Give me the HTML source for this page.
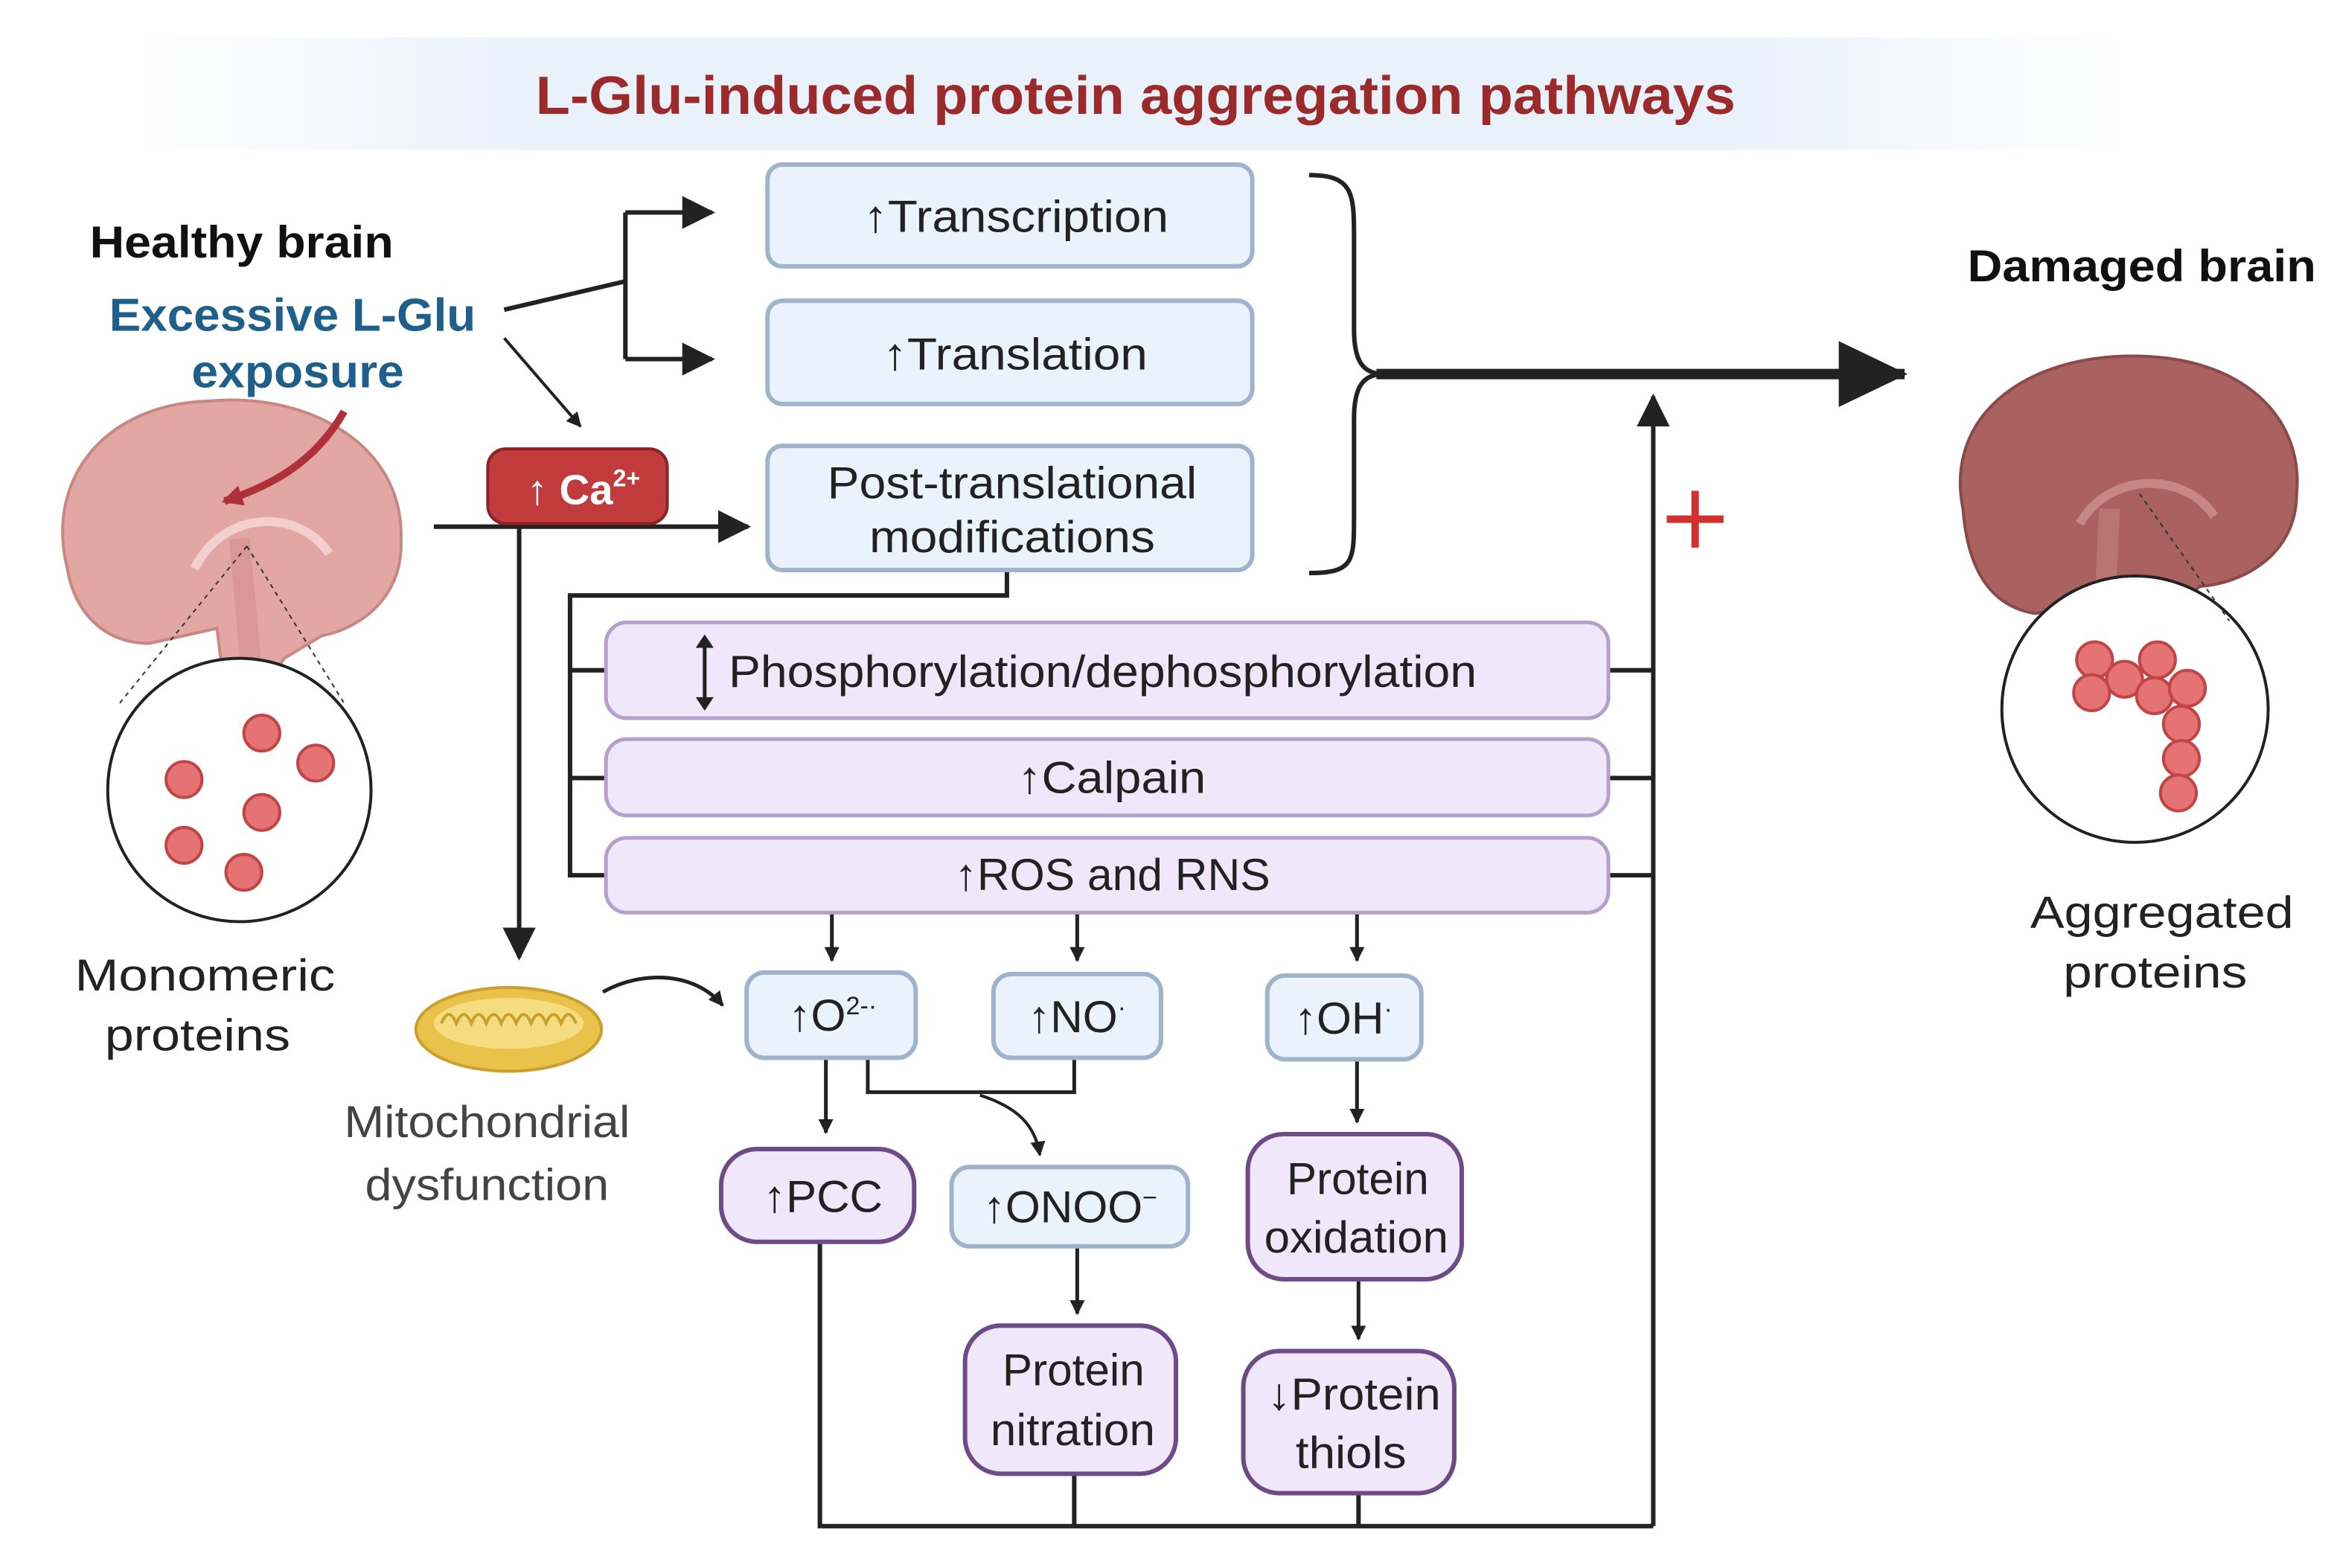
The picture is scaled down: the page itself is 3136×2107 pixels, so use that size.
<!DOCTYPE html>
<html><head><meta charset="utf-8"><style>
html,body{margin:0;padding:0;background:#fff}
svg{display:block}
text{font-family:"Liberation Sans",sans-serif}
</style></head><body>
<svg width="3136" height="2107" viewBox="0 0 1560 1048" preserveAspectRatio="none" xmlns="http://www.w3.org/2000/svg">
<defs>
<linearGradient id="tg" x1="0" x2="1">
<stop offset="0" stop-color="#fff"/><stop offset="0.2" stop-color="#e9f1fb"/><stop offset="0.8" stop-color="#e9f1fb"/><stop offset="1" stop-color="#fff"/>
</linearGradient>
<marker id="ah" markerWidth="10" markerHeight="10" refX="9" refY="5" orient="auto" markerUnits="userSpaceOnUse"><path d="M0,0 L10,5 L0,10 z" fill="#222"/></marker>
<marker id="ahb" markerWidth="22" markerHeight="22" refX="20" refY="11" orient="auto" markerUnits="userSpaceOnUse"><path d="M0,0 L22,11 L0,22 z" fill="#222"/></marker>
<marker id="ahr" markerWidth="46" markerHeight="44" refX="44" refY="22" orient="auto" markerUnits="userSpaceOnUse"><path d="M0,0 L46,22 L0,44 z" fill="#222"/></marker>
<marker id="ahred" markerWidth="14" markerHeight="14" refX="12" refY="7" orient="auto" markerUnits="userSpaceOnUse"><path d="M0,0 L14,7 L0,14 z" fill="#b0303a"/></marker>
</defs>
<rect x="90" y="25" width="1330" height="75" fill="url(#tg)"/>
<text x="358" y="76" textLength="802" lengthAdjust="spacingAndGlyphs" font-size="36" font-weight="bold" fill="#9b2a2a">L-Glu-induced protein aggregation pathways</text>

<text x="60" y="172" textLength="203" lengthAdjust="spacingAndGlyphs" font-size="30" font-weight="bold" fill="#111">Healthy brain</text>
<text x="73" y="221" textLength="245" lengthAdjust="spacingAndGlyphs" font-size="31" font-weight="bold" fill="#1f5f8b">Excessive L-Glu</text>
<text x="128" y="259" textLength="142" lengthAdjust="spacingAndGlyphs" font-size="31" font-weight="bold" fill="#1f5f8b">exposure</text>
<text x="1315" y="188" textLength="233" lengthAdjust="spacingAndGlyphs" font-size="30" font-weight="bold" fill="#111">Damaged brain</text>

<!-- left brain -->
<path d="M45,380 C30,320 70,270 140,268 C210,262 270,300 268,360 C270,400 240,420 215,425 L190,440 L170,470 L150,460 L145,420 L100,430 C70,430 50,410 45,380 z" fill="#e2a6a3" stroke="#c98784" stroke-width="2"/>
<path d="M130,380 C150,340 200,340 220,370" fill="none" stroke="#f3cfcd" stroke-width="6"/>
<path d="M160,360 L170,470" stroke="#d89896" stroke-width="14"/>
<path d="M230,275 C210,310 180,325 150,335" fill="none" stroke="#b0303a" stroke-width="5" marker-end="url(#ahred)"/>
<circle cx="160" cy="528" r="88" fill="#fff" stroke="#222" stroke-width="2"/>
<path d="M165,365 L80,470 M165,365 L230,470" stroke="#333" stroke-dasharray="3,3" fill="none"/>
<g fill="#e57373" stroke="#c14545" stroke-width="2">
<circle cx="175" cy="490" r="12"/><circle cx="123" cy="521" r="12"/><circle cx="211" cy="510" r="12"/><circle cx="175" cy="543" r="12"/><circle cx="123" cy="565" r="12"/><circle cx="163" cy="583" r="12"/></g>
<text x="50" y="662" textLength="174" lengthAdjust="spacingAndGlyphs" font-size="30" fill="#222">Monomeric</text>
<text x="70" y="702" textLength="124" lengthAdjust="spacingAndGlyphs" font-size="30" fill="#222">proteins</text>

<!-- right brain -->
<path d="M1312,340 C1300,280 1350,240 1420,238 C1500,236 1540,280 1535,330 C1535,370 1500,390 1470,392 L1440,420 L1420,450 L1400,440 L1395,405 L1360,410 C1330,405 1315,380 1312,340 z" fill="#a9625f" stroke="#8b4a48" stroke-width="2"/>
<path d="M1390,350 C1410,315 1460,315 1480,345" fill="none" stroke="#c58885" stroke-width="6"/>
<path d="M1410,340 L1405,440" stroke="#b87572" stroke-width="14"/>
<circle cx="1427" cy="474" r="89" fill="#fff" stroke="#222" stroke-width="2"/>
<path d="M1430,330 L1490,415" stroke="#333" stroke-dasharray="3,3" fill="none"/>
<g fill="#e57373" stroke="#c14545" stroke-width="2">
<circle cx="1400" cy="441" r="12"/><circle cx="1420" cy="454" r="12"/><circle cx="1442" cy="441" r="12"/><circle cx="1398" cy="463" r="12"/><circle cx="1440" cy="465" r="12"/><circle cx="1462" cy="460" r="12"/><circle cx="1458" cy="484" r="12"/><circle cx="1458" cy="507" r="12"/><circle cx="1456" cy="530" r="12"/></g>
<text x="1357" y="620" textLength="176" lengthAdjust="spacingAndGlyphs" font-size="30" fill="#222">Aggregated</text>
<text x="1379" y="660" textLength="123" lengthAdjust="spacingAndGlyphs" font-size="30" fill="#222">proteins</text>

<!-- lines -->
<g stroke="#222" stroke-width="3" fill="none">
<path d="M337,207 L418,188"/>
<path d="M418,142 L418,240"/>
<path d="M418,142 L476,142" marker-end="url(#ahb)"/>
<path d="M418,240 L476,240" marker-end="url(#ahb)"/>
<path d="M337,226 L388,285" stroke-width="2" marker-end="url(#ah)"/>
<path d="M290,352 L500,352" marker-end="url(#ahb)"/>
<path d="M347,352 L347,640" marker-end="url(#ahb)"/>
<path d="M673,381 L673,398 L381,398 L381,585 L405,585 M381,448 L405,448 M381,520 L405,520"/>
<path d="M1075,448 L1105,448 M1075,520 L1105,520 M1075,585 L1105,585"/>
<path d="M1105,1020 L1105,265" marker-end="url(#ahb)"/>
<path d="M875,117 C905,117 905,130 905,160 L905,220 C905,240 910,250 925,250 C910,250 905,260 905,280 L905,345 C905,375 905,383 875,383"/>
<path d="M920,250 L1273,250" stroke-width="7" marker-end="url(#ahr)"/>
<path d="M556,610 L556,642" stroke-width="2.5" marker-end="url(#ah)"/>
<path d="M720,610 L720,642" stroke-width="2.5" marker-end="url(#ah)"/>
<path d="M907,610 L907,642" stroke-width="2.5" marker-end="url(#ah)"/>
<path d="M552,707 L552,757" stroke-width="2.5" marker-end="url(#ah)"/>
<path d="M580,707 L580,730 L718,730 L718,707" stroke-width="2.5"/>
<path d="M655,732 C680,740 692,752 695,772" stroke-width="2" marker-end="url(#ah)"/>
<path d="M720,833 L720,878" stroke-width="2.5" marker-end="url(#ah)"/>
<path d="M907,708 L907,750" stroke-width="2.5" marker-end="url(#ah)"/>
<path d="M908,855 L908,895" stroke-width="2.5" marker-end="url(#ah)"/>
<path d="M548,830 L548,1020 L1105,1020 M718,985 L718,1020 M908,998 L908,1020"/>
<path d="M403,663 C430,648 465,650 483,672" stroke-width="2.5" marker-end="url(#ah)"/>
</g>
<path d="M1133,328 L1133,366 M1114,347 L1152,347" stroke="#d32f2f" stroke-width="5"/>

<!-- blue boxes -->
<g fill="#eaf2fb" stroke="#9fb4cc" stroke-width="3">
<rect x="513" y="110" width="324" height="68" rx="10"/>
<rect x="513" y="201" width="324" height="69" rx="10"/>
<rect x="513" y="298" width="324" height="83" rx="10"/>
<rect x="499" y="650" width="113" height="57" rx="12"/>
<rect x="664" y="651" width="112" height="56" rx="12"/>
<rect x="847" y="652" width="103" height="56" rx="12"/>
<rect x="636" y="780" width="158" height="53" rx="12"/>
</g>
<g fill="#f1e7fa" stroke="#b59fcb" stroke-width="2.5">
<rect x="405" y="416" width="670" height="64" rx="14"/>
<rect x="405" y="494" width="670" height="51" rx="14"/>
<rect x="405" y="560" width="670" height="50" rx="14"/>
</g>
<g fill="#f1e7fa" stroke="#6e4a86" stroke-width="3">
<rect x="482" y="768" width="129" height="62" rx="24"/>
<rect x="834" y="758" width="143" height="97" rx="24"/>
<rect x="645" y="886" width="141" height="99" rx="24"/>
<rect x="831" y="903" width="141" height="95" rx="24"/>
</g>
<rect x="326" y="300" width="120" height="50" rx="12" fill="#c13b3d" stroke="#8e2325" stroke-width="2"/>
<text x="390" y="337" text-anchor="middle" font-size="28" font-weight="bold" fill="#fff">↑ Ca<tspan font-size="16" dy="-12">2+</tspan></text>

<g font-size="30" fill="#222" lengthAdjust="spacingAndGlyphs">
<text x="577" y="155" textLength="204" lengthAdjust="spacingAndGlyphs">↑Transcription</text>
<text x="590" y="247" textLength="177" lengthAdjust="spacingAndGlyphs">↑Translation</text>
<text x="553" y="333" textLength="247" lengthAdjust="spacingAndGlyphs">Post-translational</text>
<text x="581" y="369" textLength="191" lengthAdjust="spacingAndGlyphs">modifications</text>
<text x="487" y="459" textLength="500" lengthAdjust="spacingAndGlyphs">Phosphorylation/dephosphorylation</text>
<text x="680" y="530" textLength="126" lengthAdjust="spacingAndGlyphs">↑Calpain</text>
<text x="638" y="595" textLength="211" lengthAdjust="spacingAndGlyphs">↑ROS and RNS</text>
<text x="510" y="810" textLength="80" lengthAdjust="spacingAndGlyphs">↑PCC</text>
<text x="860" y="798" textLength="95" lengthAdjust="spacingAndGlyphs">Protein</text>
<text x="845" y="837" textLength="123" lengthAdjust="spacingAndGlyphs">oxidation</text>
<text x="670" y="926" textLength="95" lengthAdjust="spacingAndGlyphs">Protein</text>
<text x="662" y="966" textLength="110" lengthAdjust="spacingAndGlyphs">nitration</text>
<text x="847" y="942" textLength="116" lengthAdjust="spacingAndGlyphs">↓Protein</text>
<text x="866" y="981" textLength="74" lengthAdjust="spacingAndGlyphs">thiols</text>
</g>
<g font-size="30" fill="#222">
<text x="527" y="689">↑O<tspan font-size="17" dy="-11">2-·</tspan></text>
<text x="687" y="690">↑NO<tspan font-size="17" dy="-11">·</tspan></text>
<text x="865" y="691">↑OH<tspan font-size="17" dy="-11">·</tspan></text>
<text x="657" y="817">↑ONOO<tspan font-size="17" dy="-11">−</tspan></text>
</g>
<path d="M471,426 L471,472" stroke="#222" stroke-width="2.5"/>
<path d="M465,433 L471,424 L477,433 z M465,466 L471,475 L477,466 z" fill="#222"/>

<!-- mitochondria -->
<ellipse cx="340" cy="688" rx="62" ry="28" fill="#e8c24a" stroke="#c9a02c" stroke-width="2"/>
<ellipse cx="340" cy="684" rx="50" ry="17" fill="#f5dc7e"/>
<path d="M295,684 q5,-12 10,0 q5,-12 10,0 q5,-12 10,0 q5,-12 10,0 q5,-12 10,0 q5,-12 10,0 q5,-12 10,0 q5,-12 10,0 q5,-12 10,0" fill="none" stroke="#c9a02c" stroke-width="2"/>
<text x="230" y="760" textLength="191" lengthAdjust="spacingAndGlyphs" font-size="30" fill="#444">Mitochondrial</text>
<text x="244" y="802" textLength="163" lengthAdjust="spacingAndGlyphs" font-size="30" fill="#444">dysfunction</text>
</svg>
</body></html>
